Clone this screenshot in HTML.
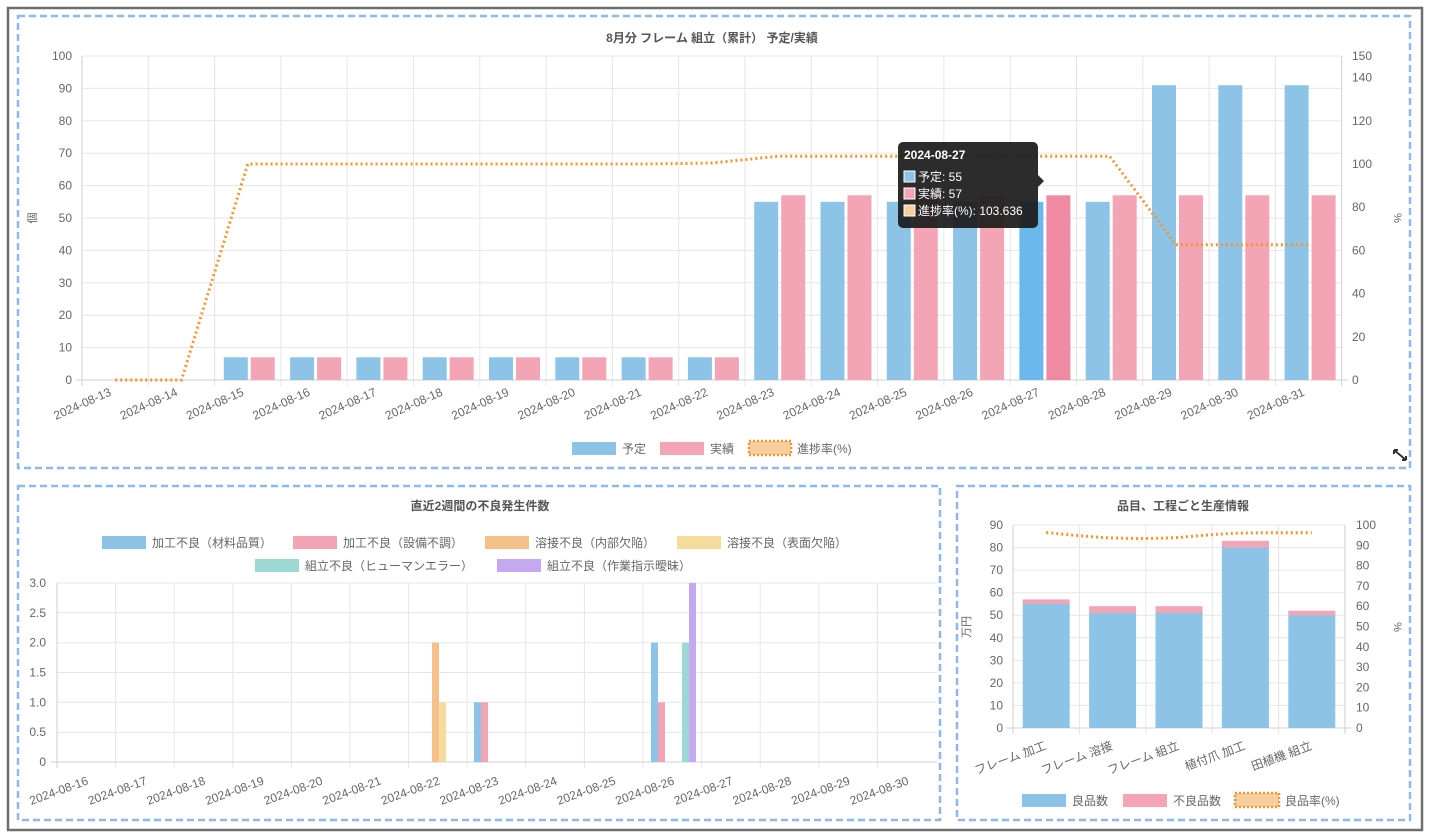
<!DOCTYPE html>
<html><head><meta charset="utf-8"><style>
html,body{margin:0;padding:0;background:#fff;}
svg{display:block;font-family:"Liberation Sans","Noto Sans CJK JP",sans-serif;}
</style></head><body>
<svg width="1430" height="838" viewBox="0 0 1430 838" xmlns="http://www.w3.org/2000/svg">
<rect x="8" y="8" width="1414" height="822" fill="#fff" stroke="#6e6e6e" stroke-width="2.5"/>
<g fill="none" stroke="#8fb8ec" stroke-width="2.5" stroke-dasharray="7,4">
<rect x="18" y="16" width="1392" height="452"/>
<rect x="18" y="486" width="922" height="334"/>
<rect x="957" y="486" width="453" height="334"/>
</g>

<!-- TOP CHART -->
<text x="712" y="42" text-anchor="middle" font-size="12" font-weight="bold" fill="#555">8月分 フレーム 組立（累計） 予定/実績</text>
<g stroke="#e6e6e6" stroke-width="1">
<line x1="82" y1="56" x2="1342" y2="56"/><line x1="82" y1="88.4" x2="1342" y2="88.4"/><line x1="82" y1="120.8" x2="1342" y2="120.8"/><line x1="82" y1="153.2" x2="1342" y2="153.2"/><line x1="82" y1="185.6" x2="1342" y2="185.6"/><line x1="82" y1="218" x2="1342" y2="218"/><line x1="82" y1="250.4" x2="1342" y2="250.4"/><line x1="82" y1="282.8" x2="1342" y2="282.8"/><line x1="82" y1="315.2" x2="1342" y2="315.2"/><line x1="82" y1="347.6" x2="1342" y2="347.6"/>
<line x1="148.3" y1="56" x2="148.3" y2="386"/><line x1="214.6" y1="56" x2="214.6" y2="386"/><line x1="280.9" y1="56" x2="280.9" y2="386"/><line x1="347.2" y1="56" x2="347.2" y2="386"/><line x1="413.5" y1="56" x2="413.5" y2="386"/><line x1="479.8" y1="56" x2="479.8" y2="386"/><line x1="546.1" y1="56" x2="546.1" y2="386"/><line x1="612.4" y1="56" x2="612.4" y2="386"/><line x1="678.7" y1="56" x2="678.7" y2="386"/><line x1="745" y1="56" x2="745" y2="386"/><line x1="811.3" y1="56" x2="811.3" y2="386"/><line x1="877.6" y1="56" x2="877.6" y2="386"/><line x1="943.9" y1="56" x2="943.9" y2="386"/><line x1="1010.2" y1="56" x2="1010.2" y2="386"/><line x1="1076.5" y1="56" x2="1076.5" y2="386"/><line x1="1142.8" y1="56" x2="1142.8" y2="386"/><line x1="1209.1" y1="56" x2="1209.1" y2="386"/><line x1="1275.4" y1="56" x2="1275.4" y2="386"/>
</g>
<g stroke="#cfcfcf"><line x1="82" y1="56" x2="82" y2="386"/><line x1="1341.7" y1="56" x2="1341.7" y2="386"/><line x1="76" y1="380" x2="1348" y2="380"/></g>
<g font-size="12" fill="#666" text-anchor="end">
<text x="72" y="60">100</text><text x="72" y="92.4">90</text><text x="72" y="124.8">80</text><text x="72" y="157.2">70</text><text x="72" y="189.6">60</text><text x="72" y="222">50</text><text x="72" y="254.4">40</text><text x="72" y="286.8">30</text><text x="72" y="319.2">20</text><text x="72" y="351.6">10</text><text x="72" y="384">0</text>
</g>
<g font-size="12" fill="#666" text-anchor="start">
<text x="1352" y="60">150</text><text x="1352" y="81.6">140</text><text x="1352" y="124.8">120</text><text x="1352" y="168">100</text><text x="1352" y="211.2">80</text><text x="1352" y="254.4">60</text><text x="1352" y="297.6">40</text><text x="1352" y="340.8">20</text><text x="1352" y="384">0</text>
</g>
<text transform="translate(36,218) rotate(-90)" font-size="11" fill="#666" text-anchor="middle">個</text>
<text transform="translate(1394,218) rotate(90)" font-size="11" fill="#666" text-anchor="middle">%</text>
<g fill="#8ec3e8">
<rect x="223.8" y="357.3" width="24" height="22.7"/><rect x="290.1" y="357.3" width="24" height="22.7"/><rect x="356.4" y="357.3" width="24" height="22.7"/><rect x="422.7" y="357.3" width="24" height="22.7"/><rect x="489" y="357.3" width="24" height="22.7"/><rect x="555.3" y="357.3" width="24" height="22.7"/><rect x="621.6" y="357.3" width="24" height="22.7"/><rect x="687.9" y="357.3" width="24" height="22.7"/>
<rect x="754.2" y="201.8" width="24" height="178.2"/><rect x="820.5" y="201.8" width="24" height="178.2"/><rect x="886.8" y="201.8" width="24" height="178.2"/><rect x="953.1" y="201.8" width="24" height="178.2"/><rect x="1085.7" y="201.8" width="24" height="178.2"/>
<rect x="1152" y="85.2" width="24" height="294.8"/><rect x="1218.3" y="85.2" width="24" height="294.8"/><rect x="1284.6" y="85.2" width="24" height="294.8"/>
</g>
<rect x="1019.4" y="201.8" width="24" height="178.2" fill="#6bb8ec"/>
<g fill="#f3a5b6">
<rect x="250.8" y="357.3" width="24" height="22.7"/><rect x="317.1" y="357.3" width="24" height="22.7"/><rect x="383.4" y="357.3" width="24" height="22.7"/><rect x="449.7" y="357.3" width="24" height="22.7"/><rect x="516" y="357.3" width="24" height="22.7"/><rect x="582.3" y="357.3" width="24" height="22.7"/><rect x="648.6" y="357.3" width="24" height="22.7"/><rect x="714.9" y="357.3" width="24" height="22.7"/>
<rect x="781.2" y="195.3" width="24" height="184.7"/><rect x="847.5" y="195.3" width="24" height="184.7"/><rect x="913.8" y="195.3" width="24" height="184.7"/><rect x="980.1" y="195.3" width="24" height="184.7"/><rect x="1112.7" y="195.3" width="24" height="184.7"/><rect x="1179" y="195.3" width="24" height="184.7"/><rect x="1245.3" y="195.3" width="24" height="184.7"/><rect x="1311.6" y="195.3" width="24" height="184.7"/>
</g>
<rect x="1046.4" y="195.3" width="24" height="184.7" fill="#f08aa2"/>
<polyline fill="none" stroke="#f0962e" stroke-width="3" stroke-dasharray="2,3" points="115.2,380 181.5,380 247.8,164 314.1,164 380.4,164 446.7,164 513,164 579.3,164 645.6,164 711.9,163 778.2,156.2 844.5,156.2 910.8,156.2 977.1,156.2 1043.4,156.2 1109.7,156.2 1176,244.8 1242.3,244.8 1308.6,244.8"/>
<g font-size="12" fill="#666" text-anchor="end">
<text transform="translate(112,395) rotate(-24)">2024-08-13</text><text transform="translate(178.3,395) rotate(-24)">2024-08-14</text><text transform="translate(244.6,395) rotate(-24)">2024-08-15</text><text transform="translate(310.9,395) rotate(-24)">2024-08-16</text><text transform="translate(377.2,395) rotate(-24)">2024-08-17</text><text transform="translate(443.5,395) rotate(-24)">2024-08-18</text><text transform="translate(509.8,395) rotate(-24)">2024-08-19</text><text transform="translate(576.1,395) rotate(-24)">2024-08-20</text><text transform="translate(642.4,395) rotate(-24)">2024-08-21</text><text transform="translate(708.7,395) rotate(-24)">2024-08-22</text><text transform="translate(775,395) rotate(-24)">2024-08-23</text><text transform="translate(841.3,395) rotate(-24)">2024-08-24</text><text transform="translate(907.6,395) rotate(-24)">2024-08-25</text><text transform="translate(973.9,395) rotate(-24)">2024-08-26</text><text transform="translate(1040.2,395) rotate(-24)">2024-08-27</text><text transform="translate(1106.5,395) rotate(-24)">2024-08-28</text><text transform="translate(1172.8,395) rotate(-24)">2024-08-29</text><text transform="translate(1239.1,395) rotate(-24)">2024-08-30</text><text transform="translate(1305.4,395) rotate(-24)">2024-08-31</text>
</g>
<rect x="572" y="442" width="44" height="13" fill="#8ec3e8"/><text x="622" y="453" font-size="12" fill="#666">予定</text>
<rect x="660" y="442" width="44" height="13" fill="#f3a5b6"/><text x="710" y="453" font-size="12" fill="#666">実績</text>
<rect x="749" y="441" width="42" height="14" fill="#f7cf9e" stroke="#f0962e" stroke-width="2.5" stroke-dasharray="2,2"/><text x="797" y="453" font-size="12" fill="#666">進捗率(%)</text>
<path d="M1394 450 l12 10 M1394 450 v4 M1394 450 h4 M1406 460 v-4 M1406 460 h-4" stroke="#333" stroke-width="2" fill="none"/>
<!-- tooltip -->
<path d="M903 142 h130 a5 5 0 0 1 5 5 v28 l6 6 l-6 6 v36 a5 5 0 0 1 -5 5 h-130 a5 5 0 0 1 -5 -5 v-76 a5 5 0 0 1 5 -5z" fill="#1c1c1c" fill-opacity="0.93"/>
<text x="904" y="159" font-size="12" font-weight="bold" fill="#fff">2024-08-27</text>
<rect x="904" y="171" width="11" height="11" fill="#8ec3e8" stroke="#fff" stroke-width="1"/><text x="918" y="181" font-size="12" fill="#fff">予定: 55</text>
<rect x="904" y="188" width="11" height="11" fill="#f3a5b6" stroke="#fff" stroke-width="1"/><text x="918" y="198" font-size="12" fill="#fff">実績: 57</text>
<rect x="904" y="205" width="11" height="11" fill="#f7cf9e" stroke="#fff" stroke-width="1"/><text x="918" y="215" font-size="12" fill="#fff">進捗率(%): 103.636</text>

<!-- BOTTOM LEFT -->
<text x="480" y="510" text-anchor="middle" font-size="12" font-weight="bold" fill="#555">直近2週間の不良発生件数</text>
<g font-size="12" fill="#666">
<rect x="102" y="536" width="44" height="13" fill="#8ec3e8"/><text x="152" y="547">加工不良（材料品質）</text>
<rect x="293" y="536" width="44" height="13" fill="#f3a5b6"/><text x="343" y="547">加工不良（設備不調）</text>
<rect x="485" y="536" width="44" height="13" fill="#f5c08a"/><text x="535" y="547">溶接不良（内部欠陥）</text>
<rect x="677" y="536" width="44" height="13" fill="#f6dc9c"/><text x="727" y="547">溶接不良（表面欠陥）</text>
<rect x="255" y="559" width="44" height="13" fill="#9ed8d4"/><text x="305" y="570">組立不良（ヒューマンエラー）</text>
<rect x="497" y="559" width="44" height="13" fill="#c4a8f0"/><text x="547" y="570">組立不良（作業指示曖昧）</text>
</g>
<g stroke="#e6e6e6">
<line x1="57" y1="583" x2="937" y2="583"/><line x1="57" y1="612.8" x2="937" y2="612.8"/><line x1="57" y1="642.7" x2="937" y2="642.7"/><line x1="57" y1="672.5" x2="937" y2="672.5"/><line x1="57" y1="702.3" x2="937" y2="702.3"/><line x1="57" y1="732.2" x2="937" y2="732.2"/>
<line x1="115.6" y1="583" x2="115.6" y2="768"/><line x1="174.2" y1="583" x2="174.2" y2="768"/><line x1="232.8" y1="583" x2="232.8" y2="768"/><line x1="291.4" y1="583" x2="291.4" y2="768"/><line x1="350" y1="583" x2="350" y2="768"/><line x1="408.6" y1="583" x2="408.6" y2="768"/><line x1="467.2" y1="583" x2="467.2" y2="768"/><line x1="525.8" y1="583" x2="525.8" y2="768"/><line x1="584.4" y1="583" x2="584.4" y2="768"/><line x1="643" y1="583" x2="643" y2="768"/><line x1="701.6" y1="583" x2="701.6" y2="768"/><line x1="760.2" y1="583" x2="760.2" y2="768"/><line x1="818.8" y1="583" x2="818.8" y2="768"/><line x1="877.4" y1="583" x2="877.4" y2="768"/>
</g>
<g stroke="#cfcfcf"><line x1="57" y1="583" x2="57" y2="768"/><line x1="51" y1="762" x2="937" y2="762"/></g>
<g font-size="12" fill="#666" text-anchor="end">
<text x="46" y="587">3.0</text><text x="46" y="616.8">2.5</text><text x="46" y="646.7">2.0</text><text x="46" y="676.5">1.5</text><text x="46" y="706.3">1.0</text><text x="46" y="736.2">0.5</text><text x="46" y="766">0</text>
</g>
<rect x="432" y="642.7" width="7" height="119.3" fill="#f5c08a"/>
<rect x="439" y="702.3" width="7" height="59.7" fill="#f6dc9c"/>
<rect x="474" y="702.3" width="7" height="59.7" fill="#8ec3e8"/>
<rect x="481" y="702.3" width="7" height="59.7" fill="#f3a5b6"/>
<rect x="651" y="642.7" width="7" height="119.3" fill="#8ec3e8"/>
<rect x="658" y="702.3" width="7" height="59.7" fill="#f3a5b6"/>
<rect x="682" y="642.7" width="7" height="119.3" fill="#9ed8d4"/>
<rect x="689" y="583" width="7" height="179" fill="#c4a8f0"/>
<g font-size="12" fill="#666" text-anchor="end">
<text transform="translate(89,784) rotate(-20)">2024-08-16</text><text transform="translate(147.6,784) rotate(-20)">2024-08-17</text><text transform="translate(206.2,784) rotate(-20)">2024-08-18</text><text transform="translate(264.8,784) rotate(-20)">2024-08-19</text><text transform="translate(323.4,784) rotate(-20)">2024-08-20</text><text transform="translate(382,784) rotate(-20)">2024-08-21</text><text transform="translate(440.6,784) rotate(-20)">2024-08-22</text><text transform="translate(499.2,784) rotate(-20)">2024-08-23</text><text transform="translate(557.8,784) rotate(-20)">2024-08-24</text><text transform="translate(616.4,784) rotate(-20)">2024-08-25</text><text transform="translate(675,784) rotate(-20)">2024-08-26</text><text transform="translate(733.6,784) rotate(-20)">2024-08-27</text><text transform="translate(792.2,784) rotate(-20)">2024-08-28</text><text transform="translate(850.8,784) rotate(-20)">2024-08-29</text><text transform="translate(909.4,784) rotate(-20)">2024-08-30</text>
</g>

<!-- BOTTOM RIGHT -->
<text x="1183" y="510" text-anchor="middle" font-size="12" font-weight="bold" fill="#555">品目、工程ごと生産情報</text>
<g stroke="#e6e6e6">
<line x1="1013" y1="525" x2="1345" y2="525"/><line x1="1013" y1="547.6" x2="1345" y2="547.6"/><line x1="1013" y1="570.1" x2="1345" y2="570.1"/><line x1="1013" y1="592.7" x2="1345" y2="592.7"/><line x1="1013" y1="615.2" x2="1345" y2="615.2"/><line x1="1013" y1="637.8" x2="1345" y2="637.8"/><line x1="1013" y1="660.3" x2="1345" y2="660.3"/><line x1="1013" y1="682.9" x2="1345" y2="682.9"/><line x1="1013" y1="705.4" x2="1345" y2="705.4"/>
<line x1="1079.4" y1="525" x2="1079.4" y2="734"/><line x1="1145.8" y1="525" x2="1145.8" y2="734"/><line x1="1212.2" y1="525" x2="1212.2" y2="734"/><line x1="1278.6" y1="525" x2="1278.6" y2="734"/>
</g>
<g stroke="#cfcfcf"><line x1="1013" y1="525" x2="1013" y2="734"/><line x1="1345" y1="525" x2="1345" y2="734"/><line x1="1007" y1="728" x2="1351" y2="728"/></g>
<g font-size="12" fill="#666" text-anchor="end">
<text x="1003" y="529">90</text><text x="1003" y="551.6">80</text><text x="1003" y="574.1">70</text><text x="1003" y="596.7">60</text><text x="1003" y="619.2">50</text><text x="1003" y="641.8">40</text><text x="1003" y="664.3">30</text><text x="1003" y="686.9">20</text><text x="1003" y="709.4">10</text><text x="1003" y="732">0</text>
</g>
<g font-size="12" fill="#666" text-anchor="start">
<text x="1356" y="529">100</text><text x="1356" y="549.3">90</text><text x="1356" y="569.6">80</text><text x="1356" y="589.9">70</text><text x="1356" y="610.2">60</text><text x="1356" y="630.5">50</text><text x="1356" y="650.8">40</text><text x="1356" y="671.1">30</text><text x="1356" y="691.4">20</text><text x="1356" y="711.7">10</text><text x="1356" y="732">0</text>
</g>
<text transform="translate(970,627) rotate(-90)" font-size="11" fill="#666" text-anchor="middle">万円</text>
<text transform="translate(1394,627) rotate(90)" font-size="11" fill="#666" text-anchor="middle">%</text>
<g fill="#f3a5b6">
<rect x="1022.7" y="599.4" width="47" height="5"/><rect x="1089.1" y="606.2" width="47" height="7"/><rect x="1155.5" y="606.2" width="47" height="7"/><rect x="1221.9" y="540.8" width="47" height="7"/><rect x="1288.3" y="610.7" width="47" height="5"/>
</g>
<g fill="#8ec3e8">
<rect x="1022.7" y="603.9" width="47" height="124.1"/><rect x="1089.1" y="612.9" width="47" height="115.1"/><rect x="1155.5" y="612.9" width="47" height="115.1"/><rect x="1221.9" y="547.5" width="47" height="180.5"/><rect x="1288.3" y="615.2" width="47" height="112.8"/>
</g>
<path d="M1046.2 532.5 C1080 536,1100 537.5,1112.6 538 C1140 538.8,1160 538.5,1179 537.5 C1205 535,1225 533.5,1245.4 533 C1270 532.6,1290 532.7,1311.8 532.7" fill="none" stroke="#f0962e" stroke-width="3" stroke-dasharray="2,3"/>
<g font-size="12" fill="#666" text-anchor="end">
<text transform="translate(1047,749) rotate(-20)">フレーム 加工</text><text transform="translate(1113.4,749) rotate(-20)">フレーム 溶接</text><text transform="translate(1179.8,749) rotate(-20)">フレーム 組立</text><text transform="translate(1246.2,749) rotate(-20)">植付爪 加工</text><text transform="translate(1312.6,749) rotate(-20)">田植機 組立</text>
</g>
<rect x="1022" y="794" width="44" height="13" fill="#8ec3e8"/><text x="1072" y="805" font-size="12" fill="#666">良品数</text>
<rect x="1123" y="794" width="44" height="13" fill="#f3a5b6"/><text x="1173" y="805" font-size="12" fill="#666">不良品数</text>
<rect x="1235" y="793" width="44" height="14" fill="#f7cf9e" stroke="#f0962e" stroke-width="2.5" stroke-dasharray="2,2"/><text x="1285" y="805" font-size="12" fill="#666">良品率(%)</text>
</svg>
</body></html>
